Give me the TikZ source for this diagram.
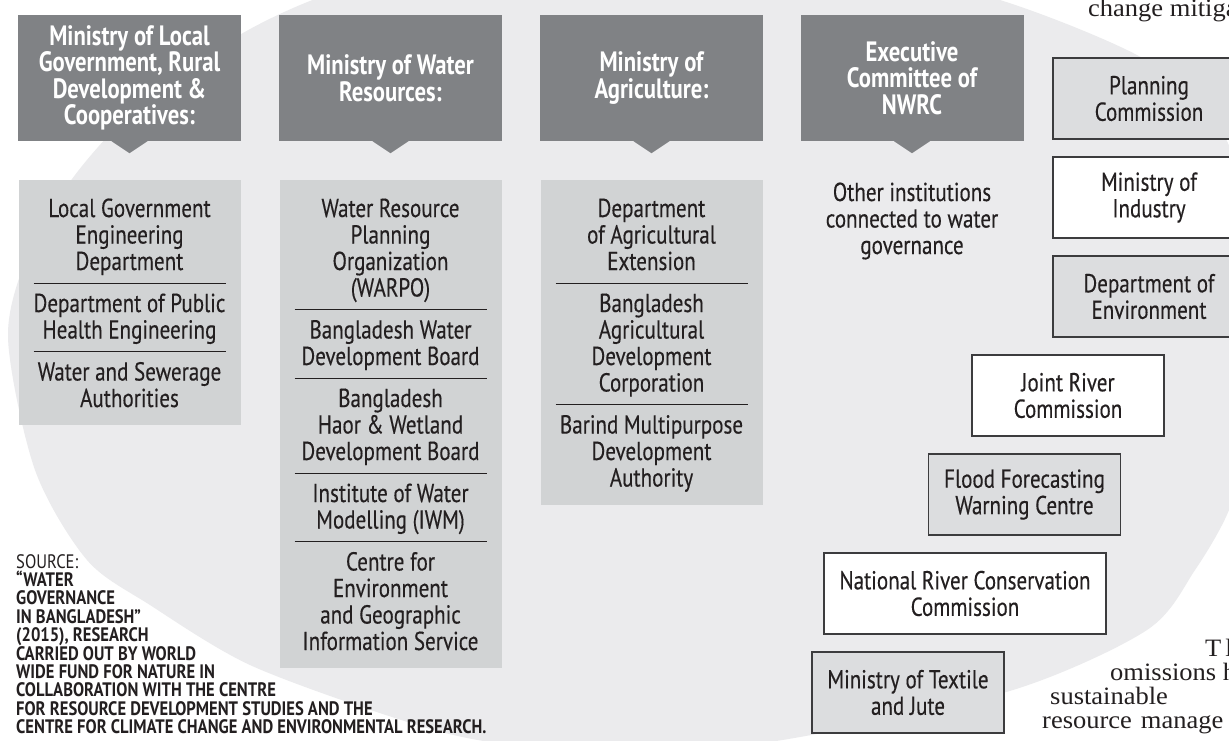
\documentclass[tikz,border=0pt]{standalone}
\usepackage{fontspec}
\setmainfont{PT Sans}[FakeStretch=0.81, UprightFeatures={FakeBold=0.3}]
\newfontfamily\srcfont{PT Sans}[FakeStretch=0.85]
\newfontfamily\artfont{Liberation Serif}[FakeStretch=1.06]
\definecolor{ellgray}{RGB}{235,235,237}
\definecolor{hdrgray}{RGB}{128,130,133}
\definecolor{boxgray}{RGB}{209,211,212}
\definecolor{rbgray}{RGB}{220,221,223}
\definecolor{inkc}{RGB}{35,31,32}
\definecolor{edgec}{RGB}{60,60,62}
\newcommand{\bodyfont}{\fontsize{26}{26.5}\selectfont\lineskiplimit=-100pt\lineskip=0pt}
\newcommand{\hdrfont}{\fontsize{28}{26.5}\selectfont\bfseries\lineskiplimit=-100pt\lineskip=0pt}
\newcommand{\vsetup}[1]{\hsize=#1\baselineskip=26.5pt\lineskiplimit=-100pt\lineskip=0pt}
\newcommand{\tline}[1]{\hbox to\hsize{\hss#1\hss}}
\newcommand{\firstline}[1]{\hbox to\hsize{\vrule height37pt depth0pt width0pt\hss#1\hss}}
\newcommand{\sepr}{\vskip\dimexpr12.5pt-\prevdepth\relax\nointerlineskip\hbox to\hsize{\hss\vrule width192pt height0.9pt depth0pt\hss}\prevdepth=-2.1pt\relax}
\newcommand{\boxend}{\vskip\dimexpr18pt-\prevdepth\relax}
\tikzset{
  hdr/.style={fill=hdrgray, text=white, minimum width=223pt, minimum height=126pt, inner sep=0pt, align=center, font=\hdrfont},
  cbox/.style={fill=boxgray, text=inkc, inner sep=0pt, font=\bodyfont, anchor=base},
  plaintext/.style={text=inkc, inner sep=0pt, font=\bodyfont, anchor=base},
  rbox/.style={draw=edgec, line width=1.5pt, text=inkc, minimum width=192pt, minimum height=81pt, inner sep=0pt, align=center, font=\bodyfont},
  art/.style={text=inkc, inner sep=0pt, anchor=base west, font=\artfont\fontsize{25}{25}\selectfont},
}
\begin{document}
\begin{tikzpicture}[x=1pt,y=-1pt]
\useasboundingbox (0,0) rectangle (1229,740);
\clip (0,0) rectangle (1229,740);
\fill[white] (0,0) rectangle (1229,740);
% background ellipse
\fill[ellgray] plot[smooth cycle] coordinates {
 (8,337) (30,250) (75,175) (140,105) (243,33) (340,-10) (480,-45) (650,-58) (820,-45)
 (1000,0) (1133,53) (1205,105) (1245,190) (1258,320) (1248,440) (1229,510) (1195,570)
 (1147,630) (1013,690) (800,737) (645,755) (490,742) (395,718) (250,665) (150,605) (87,560) (35,470)};
% headers
\node[hdr] (h1) at (129.5,78) {Ministry of Local\\Government, Rural\\Development \&\\Cooperatives:};
\node[hdr] (h2) at (390.5,78) {Ministry of Water\\Resources:};
\node[hdr] (h3) at (651.5,78) {Ministry of\\Agriculture:};
\node[hdr] (h4) at (912,78) {Executive\\Committee of\\NWRC};
\foreach \h in {h1,h2,h3,h4}{
  \fill[hdrgray] ([xshift=-18pt]\h.south) -- ([xshift=18pt]\h.south) -- ([yshift=-12pt]\h.south) -- cycle;
}
% content boxes
\node[cbox] (c1) at (129.5,217) {\vtop{\vsetup{222pt}%
 \firstline{Local Government}\tline{Engineering}\tline{Department}\sepr
 \tline{Department of Public}\tline{Health Engineering}\sepr
 \tline{Water and Sewerage}\tline{Authorities}\boxend}};
\node[cbox] (c2) at (390.5,217) {\vtop{\vsetup{222pt}%
 \firstline{Water Resource}\tline{Planning}\tline{Organization}\tline{(WARPO)}\sepr
 \tline{Bangladesh Water}\tline{Development Board}\sepr
 \tline{Bangladesh}\tline{Haor \& Wetland}\tline{Development Board}\sepr
 \tline{Institute of Water}\tline{Modelling (IWM)}\sepr
 \tline{Centre for}\tline{Environment}\tline{and Geographic}\tline{Information Service}\boxend}};
\node[cbox] (c3) at (651.5,217) {\vtop{\vsetup{222pt}%
 \firstline{Department}\tline{of Agricultural}\tline{Extension}\sepr
 \tline{Bangladesh}\tline{Agricultural}\tline{Development}\tline{Corporation}\sepr
 \tline{Barind Multipurpose}\tline{Development}\tline{Authority}\boxend}};
\node[plaintext] (c4) at (912,201) {\vtop{\vsetup{240pt}%
 \tline{Other institutions}\tline{connected to water}\tline{governance}}};
% right-hand institutions
\node[rbox, fill=rbgray] (r1) at (1149,98.5) {Planning\\Commission};
\node[rbox, fill=white] (r2) at (1149,197.5) {Ministry of\\Industry};
\node[rbox, fill=rbgray] (r3) at (1149,296.5) {Department of\\Environment};
\node[rbox, fill=white] (r4) at (1068,395.5) {Joint River\\Commission};
\node[rbox, fill=rbgray] (r5) at (1024.5,494.5) {Flood Forecasting\\Warning Centre};
\node[rbox, fill=white, minimum width=282pt] (r6) at (965,593.5) {National River Conservation\\Commission};
\node[rbox, fill=rbgray] (r7) at (908,692.5) {Ministry of Textile\\and Jute};
% source
\node[text=inkc, inner sep=0pt, anchor=base west, font=\srcfont\fontsize{19.5}{18.4}\selectfont] (src) at (16,568)
 {\vtop{\hsize=520pt\baselineskip=18.4pt\lineskiplimit=-100pt\lineskip=0pt
 \hbox{SOURCE:}\hbox{\bfseries “WATER}\hbox{\bfseries GOVERNANCE}\hbox{\bfseries IN BANGLADESH”}
 \hbox{\bfseries (2015), RESEARCH}\hbox{\bfseries CARRIED OUT BY WORLD}\hbox{\bfseries WIDE FUND FOR NATURE IN}
 \hbox{\bfseries COLLABORATION WITH THE CENTRE}\hbox{\bfseries FOR RESOURCE DEVELOPMENT STUDIES AND THE}
 \hbox{\bfseries CENTRE FOR CLIMATE CHANGE AND ENVIRONMENTAL RESEARCH.}}};
% surrounding article text (cut off at the edges)
\node[art] (a0) at (1088,16) {change mitiga};
\node[art] (a1) at (1205,656) {T\hspace{4pt}l};
\node[art] (a2) at (1110,680) {omissions h};
\node[art] (a3) at (1050,704) {sustainable};
\node[art] (a4) at (1042,728) {resource\hspace{9pt}manage};
\end{tikzpicture}
\end{document}
